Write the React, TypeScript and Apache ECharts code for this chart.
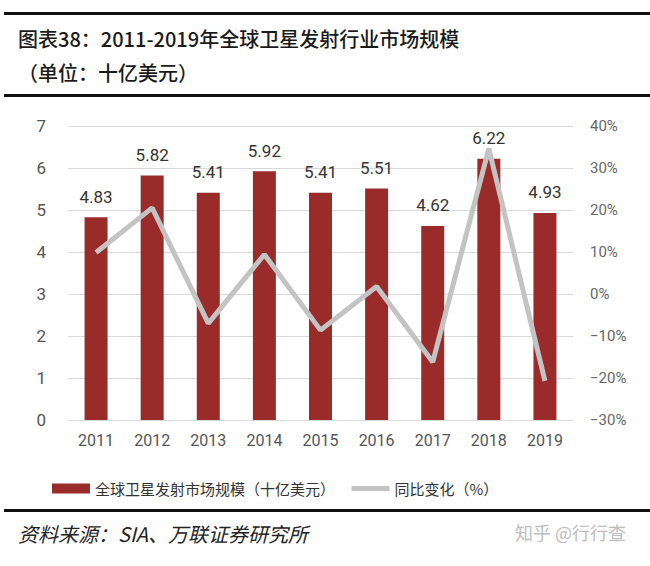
import React, { useEffect, useRef } from "react";
import * as echarts from "echarts";

const years = ["2011", "2012", "2013", "2014", "2015", "2016", "2017", "2018", "2019"];
const marketSize = [4.83, 5.82, 5.41, 5.92, 5.41, 5.51, 4.62, 6.22, 4.93];
const yoyChange = [9.9, 20.5, -7.0, 9.4, -8.6, 1.8, -16.2, 34.6, -20.7];
const leftTicks = { min: 0, max: 7, interval: 1 };
const rightTicks = { min: -30, max: 40, interval: 10 };

const CJK = '"Noto Sans CJK SC", "Noto Sans", sans-serif';

export default function App() {
  const ref = useRef<HTMLDivElement>(null);
  useEffect(() => {
    if (!ref.current) return;
    const chart = echarts.init(ref.current, null, { renderer: "svg" });
    chart.setOption({
      animation: false,
      backgroundColor: "#ffffff",
      textStyle: { fontFamily: CJK },
      grid: { left: 68, right: 77, top: 126, bottom: 146 },
      legend: {
        left: 47,
        top: 476,
        itemGap: 14,
        itemWidth: 38,
        itemHeight: 10,
        textStyle: { fontSize: 15, color: "#333", fontFamily: CJK },
        data: [
          { name: "全球卫星发射市场规模（十亿美元）", icon: "rect" },
          {
            name: "同比变化（%）",
            itemStyle: { opacity: 0 },
            lineStyle: { width: 5, color: "#c3c3c3" },
          },
        ],
      },
      xAxis: {
        type: "category",
        data: years,
        axisLine: { show: false },
        axisTick: { show: false },
        axisLabel: { fontSize: 16, color: "#555", margin: 12, fontFamily: "Roboto, sans-serif" },
      },
      yAxis: [
        {
          type: "value",
          min: leftTicks.min,
          max: leftTicks.max,
          interval: leftTicks.interval,
          axisLine: { show: false },
          axisTick: { show: false },
          axisLabel: { fontSize: 17, color: "#555", margin: 22, fontFamily: "Roboto, sans-serif" },
          splitLine: { lineStyle: { color: "#d9d9d9", width: 1 } },
        },
        {
          type: "value",
          min: rightTicks.min,
          max: rightTicks.max,
          interval: rightTicks.interval,
          axisLine: { show: false },
          axisTick: { show: false },
          splitLine: { show: false },
          axisLabel: {
            fontSize: 15,
            color: "#666",
            margin: 17,
            fontFamily: "Roboto, sans-serif",
            formatter: (v: number) => (v < 0 ? "\u2212" + Math.abs(v) : v) + "%",
          },
        },
      ],
      series: [
        {
          name: "全球卫星发射市场规模（十亿美元）",
          type: "bar",
          data: marketSize,
          barWidth: 23,
          itemStyle: { color: "#992b2b" },
          label: {
            show: true,
            position: "top",
            distance: 12,
            fontSize: 17,
            color: "#333",
            fontFamily: "Roboto, sans-serif",
            formatter: (p: any) => p.value.toFixed(2),
          },
        },
        {
          name: "同比变化（%）",
          type: "line",
          yAxisIndex: 1,
          data: yoyChange,
          symbol: "none",
          lineStyle: { color: "#c3c3c3", width: 5 },
          itemStyle: { color: "#c3c3c3" },
        },
      ],
      graphic: [
        { type: "rect", shape: { x: 4, y: 12, width: 646, height: 3 }, style: { fill: "#111" } },
        {
          type: "text",
          x: 18,
          y: 38,
          style: {
            text: "图表38：2011-2019年全球卫星发射行业市场规模",
            font: `500 20px ${CJK}`,
            fill: "#1a1a1a",
            verticalAlign: "middle",
          },
        },
        {
          type: "text",
          x: 18,
          y: 72,
          style: {
            text: "（单位：十亿美元）",
            font: `500 20px ${CJK}`,
            fill: "#1a1a1a",
            verticalAlign: "middle",
          },
        },
        { type: "rect", shape: { x: 4, y: 94, width: 646, height: 3 }, style: { fill: "#111" } },
        { type: "rect", shape: { x: 4, y: 509, width: 646, height: 3 }, style: { fill: "#111" } },
        {
          type: "text",
          x: 18,
          y: 533,
          style: {
            text: "资料来源：SIA、万联证券研究所",
            font: `italic 20px ${CJK}`,
            fill: "#222",
            verticalAlign: "middle",
          },
        },
        {
          type: "text",
          x: 515,
          y: 532,
          style: {
            text: "知乎 @行行查",
            font: `18px ${CJK}`,
            fill: "#bdbdbd",
            verticalAlign: "middle",
          },
        },
      ],
    });
    return () => chart.dispose();
  }, []);
  return (
    <div
      ref={ref}
      style={{ position: "fixed", left: 0, top: 0, width: 650, height: 566 }}
    />
  );
}
